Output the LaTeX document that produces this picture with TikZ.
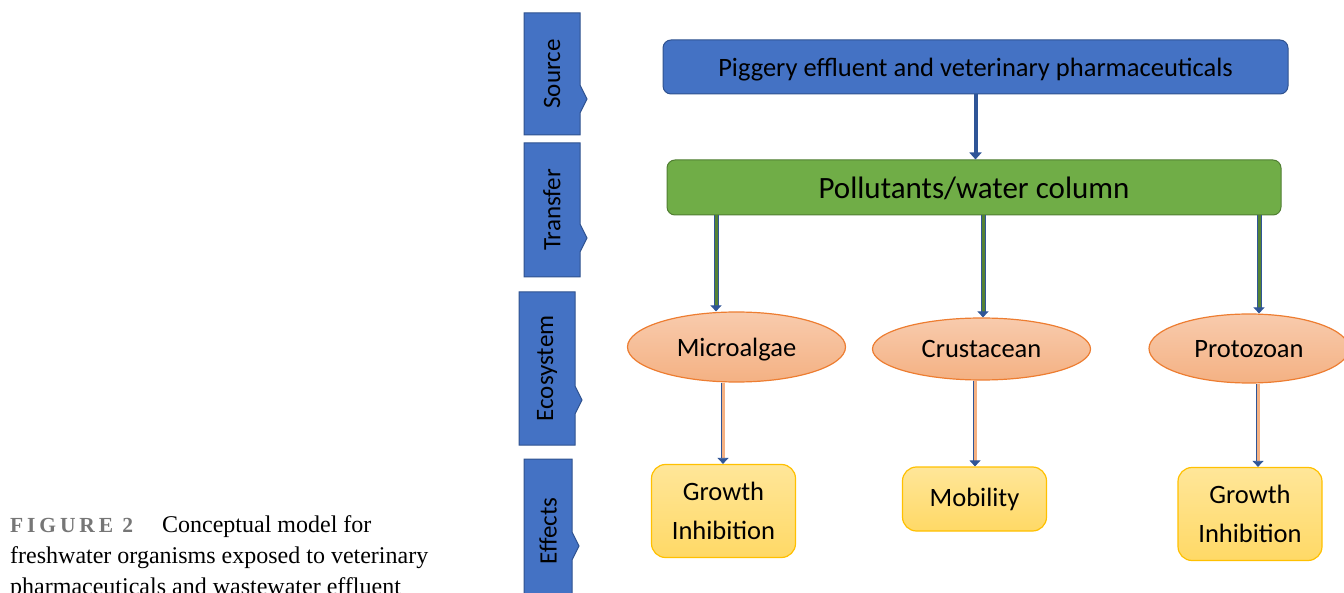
\documentclass[tikz,border=0pt]{standalone}
\usepackage{fontspec}
\setmainfont{Carlito}
\newfontfamily\captionserif{Liberation Serif}
\newfontfamily\captionhead[LetterSpace=18]{Liberation Serif}
\usetikzlibrary{shapes.geometric,arrows.meta}
\definecolor{tabblue}{HTML}{4472C4}
\definecolor{tabedge}{HTML}{2F528F}
\definecolor{boxgreen}{HTML}{70AD47}
\definecolor{greenedge}{HTML}{507E32}
\definecolor{orgedge}{HTML}{ED7D31}
\definecolor{orgtop}{HTML}{F8CBAD}
\definecolor{orgbot}{HTML}{F4B183}
\definecolor{effedge}{HTML}{FFC000}
\definecolor{efftop}{HTML}{FFE699}
\definecolor{effbot}{HTML}{FFD966}
\definecolor{arrblue}{HTML}{2F5597}
\definecolor{arrgreen}{HTML}{548235}
\definecolor{capgray}{HTML}{767676}
\tikzstyle{tab}=[fill=tabblue,draw=tabedge,line width=1pt]
\tikzstyle{tablabel}=[rotate=90,inner sep=0pt,font=\fontsize{25}{30}\selectfont]
\tikzstyle{stage}=[rounded corners=8pt,line width=1pt,inner sep=0pt,text depth=0pt]
\tikzstyle{organism}=[ellipse,draw=orgedge,line width=1.2pt,top color=orgtop,bottom color=orgbot,minimum width=218pt,inner sep=0pt,text depth=0pt,font=\fontsize{26.5}{30}\selectfont]
\tikzstyle{effect}=[rounded corners=14pt,draw=effedge,line width=1.2pt,top color=efftop,bottom color=effbot,minimum width=144pt,align=center,inner sep=0pt,font=\fontsize{26.5}{39}\selectfont]
\tikzstyle{feed}=[draw=arrblue,line width=4pt,-{Triangle[length=7pt,width=12pt]}]
\tikzstyle{uptake}=[draw=arrblue,line width=1pt,double=arrgreen,double distance=3pt,-{Triangle[length=6pt,width=11pt]}]
\tikzstyle{response}=[draw=arrblue,line width=0.8pt,double=orgbot,double distance=3pt,-{Triangle[length=6pt,width=11pt]}]

\begin{document}
\begin{tikzpicture}[x=1pt,y=-1pt]
  \clip (0,0) rectangle (1344,593);
  % stage tabs on the left
  \foreach \name/\l/\t/\r/\b/\c/\txt in {source/524/13/580/135/99/Source,
                                         transfer/524/143/580/277/238/Transfer,
                                         ecosystem/519/292/575/445/400/Ecosystem,
                                         effects/524/459/572/603/546/Effects}{
    \draw[tab] (\l,\t) -- (\r,\t) -- (\r,\c-14) -- (\r+7,\c) -- (\r,\c+14) -- (\r,\b) -- (\l,\b) -- cycle;
    \node[tablabel] (\name) at ({(\l+\r)/2},{(\t+\b)/2}) {\txt};
  }
  \node[stage,fill=tabblue,draw=tabedge,minimum width=625pt,minimum height=54pt,
        font=\fontsize{26.5}{30}\selectfont] (src) at (975.5,67) {Piggery effluent and veterinary pharmaceuticals};
  \node[stage,fill=boxgreen,draw=greenedge,minimum width=614pt,minimum height=55pt,
        font=\fontsize{31}{36}\selectfont] (pol) at (974,187.5) {Pollutants/water column};
  \node[organism,minimum height=70pt] (micro) at (736.5,347) {Microalgae};
  \node[organism,minimum height=62pt] (crust) at (981.5,349) {Crustacean};
  \node[organism,minimum height=69pt,minimum width=200pt] (proto) at (1249,348.5) {Protozoan};
  \node[effect,minimum height=93pt] (eff1) at (723.5,511) {Growth\\Inhibition};
  \node[effect,minimum height=64pt] (eff2) at (974.5,499) {Mobility};
  \node[effect,minimum height=93pt] (eff3) at (1250,514) {Growth\\Inhibition};
  \draw[feed] (src.south) -- (src.south |- pol.north);
  \foreach \org/\x in {micro/716,crust/983,proto/1259}
    \draw[uptake] (pol.south -| \x,0) -- (\org.north -| \x,0);
  \foreach \org/\eff/\x in {micro/eff1/723,crust/eff2/975,proto/eff3/1258}
    \draw[response] (\org.south -| \x,0) -- (\eff.north -| \x,0);
  % caption
  \node[anchor=north west,align=left,inner sep=0pt,font=\captionserif\fontsize{24}{31}\selectfont] (caption) at (10,515)
    {{\captionhead\bfseries\fontsize{21.5}{31}\selectfont\color{capgray}FIGURE 2}\hspace{29pt}Conceptual model for\\
     freshwater organisms exposed to veterinary\\
     pharmaceuticals and wastewater effluent};
\end{tikzpicture}
\end{document}
